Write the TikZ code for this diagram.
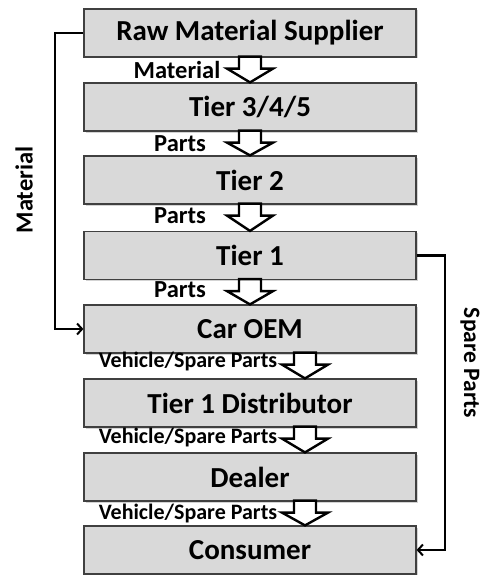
\documentclass[tikz,border=0pt]{standalone}
\usepackage{fontspec}
\setmainfont{Carlito}
\usetikzlibrary{calc,arrows.meta,shadows}
\begin{document}
\begin{tikzpicture}[x=1pt,y=-1pt,
  box/.style={draw=black!75,line width=1.2pt,fill={rgb,255:red,217;green,217;blue,217},
    minimum width=332pt,minimum height=48pt,inner sep=0pt,font=\bfseries\fontsize{29}{33}\selectfont,
    drop shadow={shadow xshift=1.5pt,shadow yshift=-1.5pt,opacity=0.35}},
  barrow/.style={draw=black,line width=2.4pt,fill=white,line join=miter},
  lab/.style={font=\bfseries\fontsize{24.5}{28}\selectfont,inner sep=0pt},
  vlab/.style={font=\bfseries\fontsize{22}{26}\selectfont,inner sep=0pt},
  conn/.style={draw=black,line width=2.6pt,-{Straight Barb[length=5pt,width=11pt,line width=2pt]}}]
\useasboundingbox (0,0) rectangle (481,575);
\coordinate (ca) at (250,0);
\coordinate (cb) at (305,0);
\node[box] (raw) at (250,33) {Raw Material Supplier};
\node[box] (t345) at (250,107) {Tier 3/4/5};
\node[box] (t2) at (250,180) {Tier 2};
\node[box] (t1) at (250,255.5) {Tier 1};
\node[box] (oem) at (250,329) {Car OEM};
\node[box] (dist) at (250,403) {Tier 1 Distributor};
\node[box] (dealer) at (250,477) {Dealer};
\node[box] (cons) at (250,550) {Consumer};
\newcommand\blockarr[3]{%
  \draw[barrow] ($(#1 |- #2.south)+(-11,-1)$) -- ($(#1 |- #2.south)+(11,-1)$)
    -- ($(#1 |- #2.south)+(11,11)$) -- ($(#1 |- #2.south)+(23,11)$)
    -- (#1 |- #3.north) -- ($(#1 |- #2.south)+(-23,11)$)
    -- ($(#1 |- #2.south)+(-11,11)$) -- cycle;}
\blockarr{ca}{raw}{t345}
\blockarr{ca}{t345}{t2}
\blockarr{ca}{t2}{t1}
\blockarr{ca}{t1}{oem}
\blockarr{cb}{oem}{dist}
\blockarr{cb}{dist}{dealer}
\blockarr{cb}{dealer}{cons}
\node[lab] (l1) at (177,70) {Material};
\node[lab] (l2) at (180,144) {Parts};
\node[lab] (l3) at (180,216) {Parts};
\node[lab] (l4) at (180,290) {Parts};
\node[vlab] (l5) at (188,362) {Vehicle/Spare Parts};
\node[vlab] (l6) at (188,438) {Vehicle/Spare Parts};
\node[vlab] (l7) at (188,514) {Vehicle/Spare Parts};
\coordinate (lx) at (55,0);
\coordinate (rx) at (445,0);
\draw[conn] (raw.west) -| (lx |- oem.west) -- (oem.west);
\draw[conn] (t1.east) -| (rx |- cons.east) -- (cons.east);
\node[lab,rotate=90] (mat) at (24,190) {Material};
\node[lab,font=\bfseries\fontsize{23.5}{27}\selectfont,rotate=-90] (sp) at (470,363) {Spare Parts};
\end{tikzpicture}
\end{document}
